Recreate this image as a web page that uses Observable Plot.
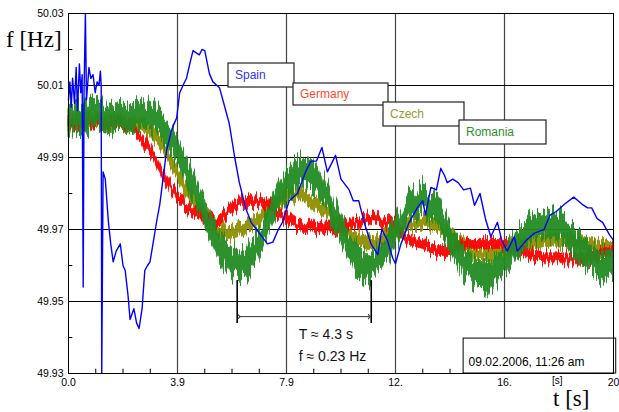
<!DOCTYPE html>
<html>
<head>
<meta charset="utf-8">
<script src="https://cdn.jsdelivr.net/npm/d3@7"></script>
<script src="https://cdn.jsdelivr.net/npm/@observablehq/plot@0.6"></script>
<style>
  body { margin: 0; background: #fff; }
  #chart { width: 619px; height: 412px; }
</style>
</head>
<body>
<div id="chart"></div>
<script>
// ---------- axis ticks ----------
const xTicks = [0, 4, 8, 12, 16, 20];
const xTickLabels = ["0.0", "3.9", "7.9", "12.", "16.", "20"];
const xMinorTicks = [1, 2, 3, 5, 6, 7, 9, 10, 11, 13, 14, 15, 17, 18, 19];
const yTicks = [49.93, 49.95, 49.97, 49.99, 50.01, 50.03];
const yGrid = [49.95, 49.97, 49.99, 50.01];
const yMinorTicks = [49.94, 49.96, 49.98, 50.00, 50.02];

// ---------- series ----------
const seriesNames = ["Spain", "Germany", "Czech", "Romania"];

// Spain (thin line)
const spainT = [0,0.05,0.1,0.15,0.22,0.28,0.33,0.4,0.45,0.5, 0.54,0.57,0.62,0.66,0.75,0.82,0.9,0.98,1.05,1.12, 1.17,1.2,1.22,1.27,1.35,1.46,1.55,1.64,1.75,1.9, 2.0,2.08,2.18,2.26,2.4,2.5,2.59,2.7,2.8,2.9, 2.99,3.1,3.24,3.35,3.5,3.6,3.8,3.97,4.08,4.2, 4.33,4.45,4.57,4.7,4.8,4.9,5.0,5.17,5.3,5.54, 5.7,5.9,6.1,6.27,6.5,6.7,6.9,7.1,7.3,7.5, 7.7,7.85,8.1,8.4,8.7,8.9,9.1,9.3,9.5,9.8, 10.0,10.3,10.45,10.65,10.85,11.1,11.35,11.5,11.7,11.9, 12.0,12.2,12.5,12.8,13.0,13.1,13.3,13.5,13.66,13.8, 13.9,14.1,14.3,14.5,14.75,14.9,15.1,15.3,15.5,15.74, 15.9,16.1,16.36,16.47,16.8,17.1,17.45,17.67,17.9,18.2, 18.54,18.7,18.85,19.05,19.2,19.4,19.6,19.85,20.0];
const spainF = [50.006,50.011,50.004,50.012,50.005,50.015,50.003,50.016,50.008,50.013, 49.954,50.008,50.030,50.006,50.015,50.012,50.013,50.008,50.011,50.010, 50.014,50.010,49.930,49.986,49.984,49.9725,49.966,49.961,49.964,49.966, 49.960,49.9586,49.952,49.945,49.948,49.944,49.9425,49.948,49.9586,49.960, 49.961,49.966,49.9725,49.977,49.986,49.992,49.998,50.001,50.008,50.010, 50.012,50.016,50.0197,50.019,50.0185,50.020,50.0197,50.0133,50.011,50.0094, 50.005,49.9994,49.990,49.983,49.976,49.972,49.970,49.968,49.966,49.9665, 49.970,49.972,49.978,49.980,49.986,49.989,49.989,49.9928,49.986,49.9906, 49.984,49.981,49.978,49.978,49.972,49.966,49.963,49.970,49.967,49.962, 49.9605,49.966,49.972,49.976,49.978,49.974,49.9817,49.981,49.987,49.985, 49.983,49.984,49.983,49.981,49.9815,49.9767,49.980,49.973,49.968,49.972, 49.967,49.964,49.968,49.964,49.967,49.969,49.970,49.974,49.975,49.977, 49.979,49.978,49.977,49.976,49.976,49.973,49.972,49.9686,49.967];

// Noisy series: lower / upper edge of the dense noise core, every 0.5 s
const bandT = [0,0.5,1,1.5,2,2.5,3,3.5,4,4.5,5,5.5,6,6.5,7,7.5,8,8.5,9,9.5,10,10.5,11,11.5,12,12.5,13,13.5,14,14.5,15,15.5,16,16.5,17,17.5,18,18.5,19,19.5,20];

const germanyLo = [49.9981,49.9986,49.9989,49.9986,49.9981,49.9956,49.9906,49.9836,49.9776,49.9736,49.9711,49.9711,49.9746,49.9766,49.9764,49.9746,49.9716,49.9691,49.9691,49.9686,49.9686,49.9704,49.9716,49.9711,49.9696,49.9656,49.9646,49.9626,49.9626,49.9646,49.9646,49.9646,49.9646,49.9626,49.9616,49.9606,49.9606,49.9606,49.9606,49.9616,49.9626];
const germanyHi = [50.0009,50.0014,50.0016,50.0014,50.0009,49.9984,49.9934,49.9864,49.9804,49.9764,49.9739,49.9739,49.9774,49.9794,49.9792,49.9774,49.9744,49.9719,49.9719,49.9714,49.9714,49.9732,49.9744,49.9739,49.9724,49.9684,49.9674,49.9654,49.9654,49.9674,49.9674,49.9674,49.9674,49.9654,49.9644,49.9634,49.9634,49.9634,49.9634,49.9644,49.9654];

const czechLo = [49.9982,49.9987,49.9982,49.9982,49.9982,49.9972,49.9952,49.9912,49.9837,49.9772,49.9722,49.9682,49.9672,49.9687,49.9702,49.9752,49.9772,49.9782,49.9752,49.9732,49.9692,49.9662,49.9642,49.9652,49.9672,49.9692,49.9702,49.9692,49.9662,49.9637,49.9612,49.9612,49.9622,49.9642,49.9642,49.9652,49.9652,49.9652,49.9642,49.9632,49.9632];
const czechHi = [50.0018,50.0023,50.0018,50.0018,50.0018,50.0008,49.9988,49.9948,49.9873,49.9808,49.9758,49.9718,49.9708,49.9723,49.9738,49.9788,49.9808,49.9818,49.9788,49.9768,49.9728,49.9698,49.9678,49.9688,49.9708,49.9728,49.9738,49.9728,49.9698,49.9673,49.9648,49.9648,49.9658,49.9678,49.9678,49.9688,49.9688,49.9688,49.9678,49.9668,49.9668];

const romaniaLo = [49.9967,49.9972,49.9982,49.9972,49.9967,49.9972,49.9977,49.9947,49.9887,49.9797,49.9702,49.9622,49.9572,49.9562,49.9622,49.9712,49.9787,49.9822,49.9817,49.9752,49.9662,49.9592,49.9552,49.9582,49.9652,49.9722,49.9752,49.9712,49.9642,49.9572,49.9542,49.9532,49.9572,49.9622,49.9662,49.9682,49.9672,49.9632,49.9592,49.9562,49.9567];
const romaniaHi = [50.0043,50.0048,50.0058,50.0048,50.0043,50.0048,50.0053,50.0023,49.9963,49.9873,49.9778,49.9698,49.9648,49.9638,49.9698,49.9788,49.9863,49.9898,49.9893,49.9828,49.9738,49.9668,49.9628,49.9658,49.9728,49.9798,49.9828,49.9788,49.9718,49.9648,49.9618,49.9608,49.9648,49.9698,49.9738,49.9758,49.9748,49.9708,49.9668,49.9638,49.9643];

// ---------- annotation values ----------
const periodStart = 6.19, periodEnd = 11.11;
const periodText = ["T \u2248 4.3 s", "f \u2248 0.23 Hz"];
const dateText = "09.02.2006, 11:26 am";

// ---------- build tables ----------
const spain = spainT.map((t, i) => ({t, f: spainF[i]}));
const band = (lo, hi) => bandT.map((t, i) => ({t, lo: lo[i], hi: hi[i]}));
const germany = band(germanyLo, germanyHi);
const czech = band(czechLo, czechHi);
const romania = band(romaniaLo, romaniaHi);

const colors = {Spain: "#0000ff", Germany: "#ff0000", Czech: "#8f8f00", Romania: "#228b22"};
const legendTextColors = {Spain: "#3333ee", Germany: "#ff4a2a", Czech: "#9a9a30", Romania: "#2f8f2f"};

const bandMark = (data, c) => Plot.areaY(data, {x: "t", y1: "lo", y2: "hi", fill: c, fillOpacity: 0.95, stroke: c, strokeWidth: 0.6});

const plot = Plot.plot({
  width: 619,
  height: 412,
  marginLeft: 68,
  marginRight: 6,
  marginTop: 13,
  marginBottom: 39,
  x: {domain: [0, 20]},
  y: {domain: [49.93, 50.03]},
  style: {fontFamily: "Arial, 'Liberation Sans', sans-serif", fontSize: "10.5px", color: "#000", background: "#fff"},
  marks: [
    Plot.gridX([4, 8, 12, 16], {stroke: "#444", strokeOpacity: 1, strokeWidth: 1.2}),
    Plot.gridY(yGrid, {stroke: "#000", strokeOpacity: 1, strokeWidth: 1}),
    Plot.ruleX(xMinorTicks, {y1: 49.93, y2: 49.9312, stroke: "#000"}),
    Plot.ruleY(yMinorTicks, {x1: 0, x2: 0.16, stroke: "#000"}),
    Plot.axisY({ticks: yTicks, tickFormat: ".2f", tickSize: 0, tickPadding: 5, label: null, fontSize: 10.5}),
    Plot.axisX({ticks: xTicks, tickFormat: d => xTickLabels[xTicks.indexOf(d)], tickSize: 0, tickPadding: 5, label: null, fontSize: 10.5}),
    bandMark(czech, colors.Czech),
    bandMark(germany, colors.Germany),
    bandMark(romania, colors.Romania),
    Plot.line(spain, {x: "t", y: "f", stroke: colors.Spain, strokeWidth: 1.4}),
    Plot.ruleX([periodStart, periodEnd], {y1: 49.9439, y2: 49.9558, stroke: "#000", strokeWidth: 1.6}),
    Plot.link([0], {x1: periodStart + 0.07, x2: periodEnd - 0.07, y1: 49.9458, y2: 49.9458, stroke: "#333", strokeWidth: 1, markerStart: "arrow", markerEnd: "arrow"}),
    Plot.text([periodText[0]], {x: 8.45, y: 49.9408, text: d => d, textAnchor: "start", fontSize: 14, fill: "#111"}),
    Plot.text([periodText[1]], {x: 8.45, y: 49.9346, text: d => d, textAnchor: "start", fontSize: 14, fill: "#111"}),
    Plot.rect([0], {x1: 14.5, x2: 20.1, y1: 49.93, y2: 49.9397, fill: "#fff", stroke: "#000", strokeWidth: 1}),
    Plot.text([dateText], {x: 14.68, y: 49.9331, text: d => d, textAnchor: "start", fontSize: 12, fill: "#000"}),
    Plot.frame({stroke: "#000", strokeWidth: 1})
  ]
});

const svg = d3.select(plot);

// texture filters giving the dense measurement noise its spiky look
const NS = "http://www.w3.org/2000/svg";
const defs = document.createElementNS(NS, "defs");
plot.insertBefore(defs, plot.firstChild);
function addJitter(id, scale, seed) {
  const f = document.createElementNS(NS, "filter");
  f.setAttribute("id", id);
  f.setAttribute("filterUnits", "userSpaceOnUse");
  f.setAttribute("x", "0"); f.setAttribute("y", "0");
  f.setAttribute("width", "619"); f.setAttribute("height", "412");
  f.setAttribute("color-interpolation-filters", "sRGB");
  const t = document.createElementNS(NS, "feTurbulence");
  t.setAttribute("type", "fractalNoise");
  t.setAttribute("baseFrequency", "0.5 0.012");
  t.setAttribute("numOctaves", "3");
  t.setAttribute("seed", String(seed));
  t.setAttribute("result", "turb");
  const m = document.createElementNS(NS, "feColorMatrix");
  m.setAttribute("in", "turb");
  m.setAttribute("type", "matrix");
  m.setAttribute("values", "0 0 0 0 0.5  0 2.6 0 0 -0.8  0 0 0 0 0  0 0 0 0 1");
  m.setAttribute("result", "map");
  const d = document.createElementNS(NS, "feDisplacementMap");
  d.setAttribute("in", "SourceGraphic");
  d.setAttribute("in2", "map");
  d.setAttribute("scale", String(scale));
  d.setAttribute("xChannelSelector", "R");
  d.setAttribute("yChannelSelector", "G");
  f.appendChild(t); f.appendChild(m); f.appendChild(d);
  defs.appendChild(f);
}
addJitter("jit-de", 9, 3);
addJitter("jit-cz", 9, 7);
addJitter("jit-ro", 17, 11);
const areaGroups = svg.selectAll('g[aria-label="area"]').nodes();
["jit-cz", "jit-de", "jit-ro"].forEach((id, i) => {
  if (areaGroups[i]) areaGroups[i].setAttribute("filter", `url(#${id})`);
});

// legend boxes (pixel layout)
const legendBoxes = [
  {name: "Spain",   x: 228, y: 63,  w: 66, h: 24},
  {name: "Germany", x: 293, y: 83,  w: 95, h: 22},
  {name: "Czech",   x: 383, y: 102, w: 81, h: 24},
  {name: "Romania", x: 459, y: 120, w: 87, h: 24}
];
const lg = svg.append("g");
legendBoxes.forEach(b => {
  lg.append("rect").attr("x", b.x).attr("y", b.y).attr("width", b.w).attr("height", b.h)
    .attr("fill", "#fff").attr("stroke", "#222").attr("stroke-width", 1.2);
  lg.append("text").attr("x", b.x + 7).attr("y", b.y + b.h / 2).attr("dy", "0.36em")
    .attr("text-anchor", "start")
    .attr("font-family", "Arial, 'Liberation Sans', sans-serif").attr("font-size", 12)
    .attr("fill", legendTextColors[b.name]).text(b.name);
});

// axis titles
svg.append("text").attr("x", 6).attr("y", 47).attr("text-anchor", "start")
  .attr("font-family", "'Liberation Serif', 'DejaVu Serif', serif").attr("font-size", 23)
  .attr("fill", "#000").text("f [Hz]");
svg.append("text").attr("x", 553).attr("y", 406).attr("text-anchor", "start")
  .attr("font-family", "'Liberation Serif', 'DejaVu Serif', serif").attr("font-size", 23)
  .attr("fill", "#000").text("t [s]");
svg.append("text").attr("x", 552).attr("y", 384).attr("text-anchor", "start")
  .attr("font-family", "Arial, 'Liberation Sans', sans-serif").attr("font-size", 10)
  .attr("fill", "#000").text("[s]");

document.getElementById("chart").appendChild(plot);
</script>
</body>
</html>
